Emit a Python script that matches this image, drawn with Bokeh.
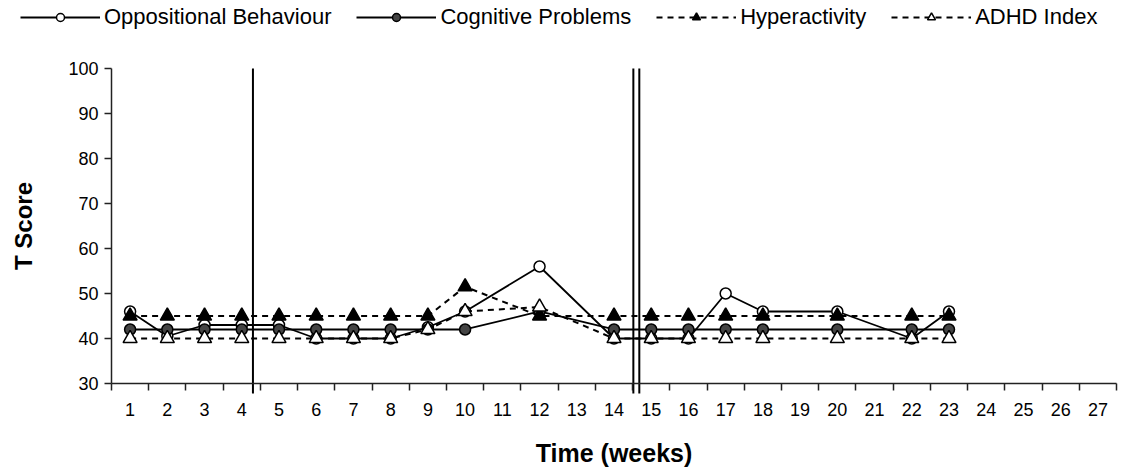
from bokeh.plotting import figure
from bokeh.models import FixedTicker, Legend, LegendItem, ColumnDataSource
from bokeh.embed import file_html
from bokeh.resources import INLINE

weeks = [1, 2, 3, 4, 5, 6, 7, 8, 9, 10, 12, 14, 15, 16, 17, 18, 20, 22, 23]
oppositional = [46, 40.5, 43, 43, 43, 40, 40, 40, 42.5, 46, 56, 40, 40, 40, 50, 46, 46, 40, 46]
cognitive = [42, 42, 42, 42, 42, 42, 42, 42, 42, 42, 46, 42, 42, 42, 42, 42, 42, 42, 42]
hyperactivity = [45, 45, 45, 45, 45, 45, 45, 45, 45, 51.5, 45, 45, 45, 45, 45, 45, 45, 45, 45]
adhd_index = [40, 40, 40, 40, 40, 40, 40, 40, 42, 46, 47, 40, 40, 40, 40, 40, 40, 40, 40]
series_names = ["Oppositional Behaviour", "Cognitive Problems", "Hyperactivity", "ADHD Index"]
phase_lines = [4.3, 14.52, 14.68]
x_ticks = list(range(1, 28))
y_ticks = [30, 40, 50, 60, 70, 80, 90, 100]

FONT = "Liberation Sans"

styles = [
    dict(marker="circle", size=11, fill="white", dash="solid", lw=1.8),
    dict(marker="circle", size=11, fill="#444444", dash="solid", lw=1.8),
    dict(marker="triangle", size=14, fill="black", dash="6 5", lw=2),
    dict(marker="triangle", size=14, fill="white", dash="6 5", lw=2),
]

# the frame covers the whole canvas; both axes are pinned to the data origin (0.5, 30)
p = figure(width=1131, height=476, output_backend="svg", toolbar_location=None,
           x_range=(-2.482, 27.903), y_range=(9.333, 115.111),
           min_border_left=0, min_border_right=0, min_border_bottom=0, min_border_top=0)
p.outline_line_color = None
p.grid.grid_line_color = None

p.xaxis.ticker = FixedTicker(ticks=x_ticks, minor_ticks=[t - 0.5 for t in x_ticks] + [27.5])
p.xaxis.bounds = (0.5, 27.5)
p.xaxis.fixed_location = 30
p.xaxis.major_tick_out = 0
p.xaxis.major_tick_in = 0
p.xaxis.minor_tick_out = 7
p.xaxis.minor_tick_in = 0
p.yaxis.ticker = FixedTicker(ticks=y_ticks)
p.yaxis.bounds = (30, 100)
p.yaxis.fixed_location = 0.5
p.yaxis.major_tick_out = 7
p.yaxis.major_tick_in = 0
p.yaxis.minor_tick_out = 0
p.yaxis.minor_tick_in = 0
for ax in (p.xaxis, p.yaxis):
    ax.axis_line_color = "#222222"
    ax.axis_line_width = 1.5
    ax.major_tick_line_color = "#222222"
    ax.minor_tick_line_color = "#222222"
    ax.major_tick_line_width = 1.5
    ax.minor_tick_line_width = 1.5
    ax.major_label_text_font = FONT
    ax.major_label_text_font_size = "18px"
    ax.major_label_text_color = "black"
    ax.axis_label_text_font = FONT
    ax.axis_label_text_font_size = "24px"
    ax.axis_label_text_font_style = "bold"
    ax.axis_label_text_color = "black"
p.xaxis.axis_label = "Time (weeks)"
p.xaxis.axis_label_text_font_size = "25px"
p.yaxis.axis_label = "T Score"
p.xaxis.major_label_standoff = 13
p.yaxis.major_label_standoff = 6
p.xaxis.axis_label_standoff = 19
p.yaxis.axis_label_standoff = 28

# phase change lines (they run a little past the x axis, as in the original)
p.segment(x0=phase_lines, x1=phase_lines, y0=[27.8] * 3, y1=[100] * 3,
          line_color="black", line_width=2)

src = ColumnDataSource(dict(w=weeks, o=oppositional, c=cognitive, h=hyperactivity, a=adhd_index))
renderers = []
for col, st in zip(["o", "c", "h", "a"], styles):
    lr = p.line("w", col, source=src, line_color="black", line_width=st["lw"], line_dash=st["dash"])
    mr = p.scatter("w", col, source=src, marker=st["marker"], size=st["size"],
                   fill_color=st["fill"], line_color="black", line_width=1.5)
    renderers.append([lr, mr])

items = [LegendItem(label=name, renderers=r) for name, r in zip(series_names, renderers)]
legend = Legend(items=items, orientation="horizontal", location=(20, 446))
legend.border_line_color = None
legend.background_fill_alpha = 0
legend.label_text_font = FONT
legend.label_text_font_size = "22px"
legend.label_text_color = "black"
legend.glyph_width = 80
legend.glyph_height = 20
legend.label_height = 24
legend.label_standoff = 4
legend.spacing = 25
legend.padding = 0
legend.margin = 0
p.add_layout(legend)

open("out.html", "w").write(file_html(p, INLINE))
